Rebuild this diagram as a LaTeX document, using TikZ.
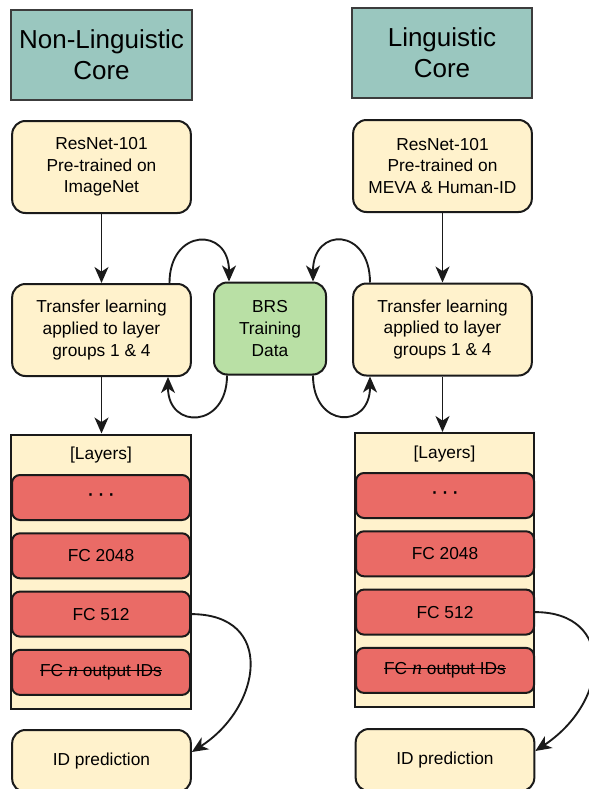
\documentclass[tikz,border=0pt]{standalone}
\usepackage{fontspec}
\setmainfont{Liberation Sans}
\newfontfamily\serifit{Liberation Serif}
\usetikzlibrary{arrows.meta,calc}
\definecolor{INK}{HTML}{1A1A1A}
\definecolor{TEAL}{HTML}{9AC7BF}
\definecolor{CREAM}{HTML}{FFF2CC}
\definecolor{GREEN}{HTML}{B9E0A5}
\definecolor{RED}{HTML}{EA6B66}
\newcommand{\strk}[1]{\setbox0\hbox{#1}\rlap{\rule[0.3em]{\wd0}{0.9pt}}\box0}
\begin{document}
\begin{tikzpicture}[x=0.75pt,y=-0.75pt]
\tikzset{hdr/.style={draw=INK!85,line width=1.5pt,fill=TEAL,minimum width=135.5pt,minimum height=67.5pt,align=center,font=\fontsize{19.5}{23}\selectfont},
 box/.style={draw=INK,line width=1.5pt,fill=CREAM,rounded corners=10pt,minimum width=134pt,minimum height=69pt,align=center,font=\fontsize{13}{16.3}\selectfont},
 lay/.style={draw=INK,line width=1.5pt,fill=RED,rounded corners=6pt,minimum width=133.5pt,minimum height=33.75pt,font=\fontsize{13}{16}\selectfont},
 holder/.style={draw=INK,line width=1.5pt,fill=CREAM,minimum width=134.5pt,minimum height=205.5pt},
 arr/.style={-{Stealth[length=12pt,width=10.5pt,inset=3.5pt]},line width=1.4pt,INK}}
\useasboundingbox (0,0) rectangle (589,789);
% column headers
\node[hdr] (hdrL) at (101.5,55) {Non-Linguistic\\Core};
\node[hdr] (hdrR) at (442,53) {Linguistic\\Core};
% pre-trained nets and transfer learning
\node[box] (netL) at (101.5,167) {ResNet-101\\Pre-trained on\\ImageNet};
\node[box] (netR) at (442.5,166) {ResNet-101\\Pre-trained on\\MEVA \& Human-ID};
\node[box] (tlL) at (101.5,330) {Transfer learning\\applied to layer\\groups 1 \& 4};
\node[box] (tlR) at (442.5,329.5) {Transfer learning\\applied to layer\\groups 1 \& 4};
\node[box,fill=GREEN,minimum width=84pt] (brs) at (270,328.5) {BRS\\Training\\Data};
% layer stacks
\node[holder] (holdL) at (101,571.5) {};
\node[holder] (holdR) at (444.5,570) {};
\node[font=\fontsize{13}{16}\selectfont] (lblL) at (101,455) {[Layers]};
\node[font=\fontsize{13}{16}\selectfont] (lblR) at (444.5,454) {[Layers]};
\foreach \c/\cx/\cy in {L/101/497.5,R/445/495.5}{
 \foreach \i/\t in {0/{{\fontsize{18}{18}\selectfont ·\kern1.8pt·\kern1.8pt·}},1/FC 2048,2/FC 512,3/{\strk{FC {\serifit\itshape\fontsize{15}{16}\selectfont n} output IDs}}}
  \node[lay] (ly\c\i) at (\cx,{\cy+58.3*\i}) {\t};}
\node[box,minimum height=46.5pt] (idL) at (101.5,761) {ID prediction};
\node[box,minimum height=46.5pt] (idR) at (445,760) {ID prediction};
% connectors
\draw[arr] (netL) -- (tlL);
\draw[arr] (tlL) -- (tlL.south |- holdL.north);
\draw[arr] (netR) -- (tlR);
\draw[arr] (tlR) -- (tlR.south |- holdR.north);
\draw[arr] ($(tlL.north)+(68,0)$) .. controls +(0,-55) and +(0,-55) .. ($(brs.north)+(-41,0)$);
\draw[arr] ($(tlR.north)+(-72.5,0)$) .. controls +(0,-55) and +(0,-55) .. ($(brs.north)+(43,0)$);
\draw[arr] ($(brs.south)+(-43,0)$) .. controls +(0,53) and +(0,53) .. ($(tlL.south)+(66.5,0)$);
\draw[arr] ($(brs.south)+(43,0)$) .. controls +(0,53) and +(0,53) .. ($(tlR.south)+(-72.5,0)$);
\draw[arr] (lyL2.east) .. controls +(85,0) and +(70,-45) .. ($(idL.east)+(0,-9)$);
\draw[arr] (lyR2.east) .. controls +(80,0) and +(75,-50) .. ($(idR.east)+(0,-9)$);
\end{tikzpicture}
\end{document}
